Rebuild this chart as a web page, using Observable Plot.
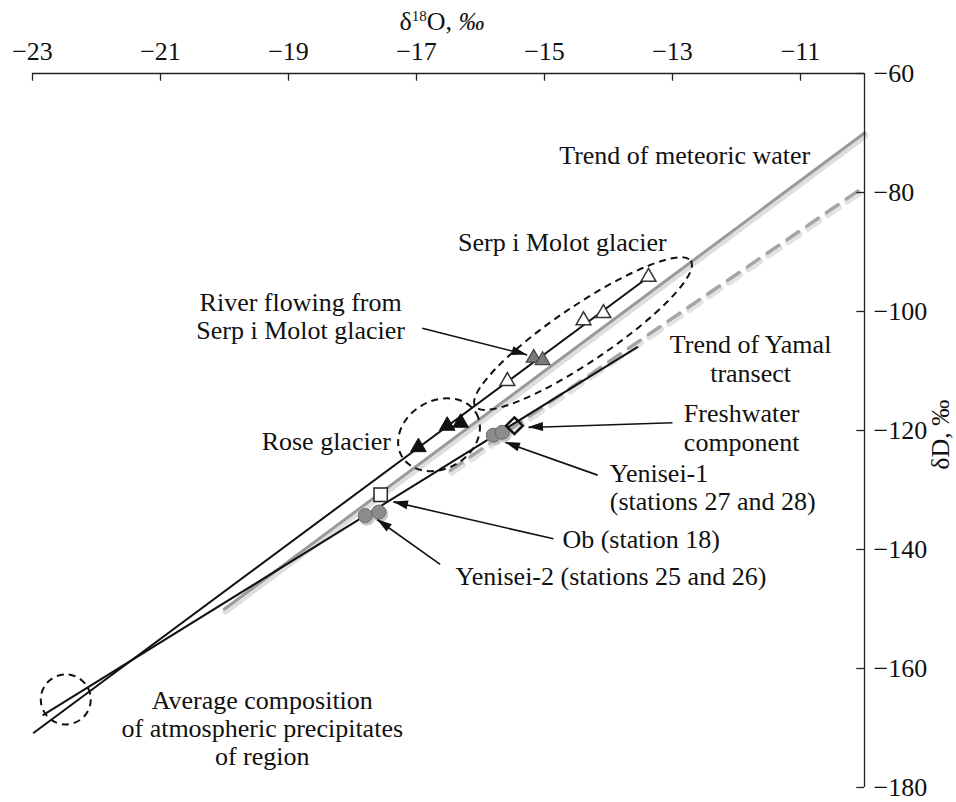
<!DOCTYPE html>
<html><head><meta charset="utf-8">
<script src="https://cdn.jsdelivr.net/npm/d3@7"></script>
<script src="https://cdn.jsdelivr.net/npm/@observablehq/plot@0.6"></script>
<style>
body{margin:0;background:#fff;}
#wrap{position:relative;width:956px;height:802px;font-family:"Liberation Serif","Times New Roman",serif;}
#xtitle{position:absolute;left:0;width:884px;top:8px;text-align:center;font-size:26px;line-height:28px;color:#111;}
#xtitle .sup{font-size:15px;position:relative;top:-9px;}
#chart{position:absolute;left:0;top:0;}
</style></head>
<body><div id="wrap"><div id="chart"></div><div id="xtitle">δ<span class="sup">18</span>O, <i>‰</i></div></div>
<script>
// Axis ticks
const xTicks = [-23, -21, -19, -17, -15, -13, -11];
const yTicks = [-60, -80, -100, -120, -140, -160, -180];

// Series (δ18O, δD)
const serpGlacierO = [-13.375, -14.08, -14.39, -15.58];
const serpGlacierD = [-94.2, -100.3, -101.5, -111.7];
const riverO = [-15.17, -15.03];
const riverD = [-107.8, -108.2];
const roseO = [-16.97, -16.52, -16.31];
const roseD = [-122.8, -119.2, -118.7];
const yenisei1O = [-15.80, -15.66];
const yenisei1D = [-120.8, -120.3];
const freshO = [-15.47];
const freshD = [-119.2];
const obO = [-17.56];
const obD = [-130.8];
const yenisei2O = [-17.80, -17.59];
const yenisei2D = [-134.3, -133.7];

// Trend lines (end points)
const glacierLineO = [-22.98, -13.375];
const glacierLineD = [-170.8, -94.2];
const riverLineO = [-22.83, -13.55];
const riverLineD = [-167.8, -106.0];
const meteoricO = [-20, -10];
const meteoricD = [-150, -70];
const yamalO = [-16.47, -10];
const yamalD = [-126.7, -79.0];

// Annotations
const ellipses = [
  {x: -14.39, y: -103.8, rx: 130, ry: 28, angle: -34},
  {x: -16.64, y: -120.8, rx: 43, ry: 34, angle: -30}
];
const atmCircle = [{x: -22.48, y: -165.2}];
const arrows = [
  {x1: -16.91, y1: -102.8, x2: -15.27, y2: -107.3},
  {x1: -13.0, y1: -118.7, x2: -15.25, y2: -119.5},
  {x1: -14.17, y1: -127.5, x2: -15.61, y2: -122.0},
  {x1: -14.86, y1: -138.2, x2: -17.36, y2: -132.0},
  {x1: -16.63, y1: -142.5, x2: -17.61, y2: -135.0}
];
const centeredLabels = [
  {text: "Trend of meteoric water", x: -12.81, y: -73.7},
  {text: "Serp i Molot glacier", x: -14.72, y: -88.3},
  {text: "River flowing from\nSerp i Molot glacier", x: -18.81, y: -100.8},
  {text: "Freshwater\ncomponent", x: -11.92, y: -119.5},
  {text: "Rose glacier", x: -18.41, y: -121.7},
  {text: "Average composition\nof atmospheric precipitates\nof region", x: -19.41, y: -170}
];
const startLabels = [
  {text: "Yenisei-1\n(stations 27 and 28)", x: -13.98, y: -129.5},
  {text: "Ob (station 18)", x: -14.72, y: -138.3},
  {text: "Yenisei-2 (stations 25 and 26)", x: -16.39, y: -144.5}
];
const yamalLabel = [{text: "Trend of Yamal\ntransect", x: -11.78, y: -107.8}];

const pts = (o, d) => o.map((v, i) => ({x: v, y: d[i]}));

const ellipseMark = (index, scales) => {
  const g = d3.create("svg:g")
    .attr("fill", "none").attr("stroke", "#111")
    .attr("stroke-width", 2).attr("stroke-dasharray", "7,5");
  for (const e of ellipses) {
    const cx = scales.x(e.x), cy = scales.y(e.y);
    g.append("ellipse").attr("cx", cx).attr("cy", cy)
      .attr("rx", e.rx).attr("ry", e.ry)
      .attr("transform", `rotate(${e.angle},${cx},${cy})`);
  }
  return g.node();
};

// filled arrow heads at the arrow tips
const arrowHeads = (index, scales) => {
  const g = d3.create("svg:g").attr("fill", "#111");
  for (const a of arrows) {
    const x1 = scales.x(a.x1), y1 = scales.y(a.y1), x2 = scales.x(a.x2), y2 = scales.y(a.y2);
    const ang = Math.atan2(y2 - y1, x2 - x1);
    const L = 15, W = 4.5;
    const bx = x2 - L * Math.cos(ang), by = y2 - L * Math.sin(ang);
    const px = -Math.sin(ang) * W, py = Math.cos(ang) * W;
    g.append("path").attr("d", `M${x2},${y2}L${bx + px},${by + py}L${bx - px},${by - py}Z`);
  }
  return g.node();
};

const plot = Plot.plot({
  width: 956,
  height: 802,
  marginLeft: 32,
  marginRight: 92,
  marginTop: 73,
  marginBottom: 15,
  style: {fontFamily: "'Liberation Serif', 'Times New Roman', serif", fontSize: "26px", color: "#111", background: "#fff"},
  x: {domain: [-23, -10], axis: "top", ticks: xTicks, tickSize: 0, tickPadding: 14, label: null},
  y: {domain: [-180, -60], axis: "right", ticks: yTicks, tickSize: 0, tickPadding: 9, label: null},
  marks: [
    // meteoric trend with shadow
    Plot.line(pts(meteoricO, meteoricD), {x: "x", y: "y", stroke: "#dedede", strokeWidth: 6, dy: 2.5, dx: 1}),
    Plot.line(pts(meteoricO, meteoricD), {x: "x", y: "y", stroke: "#9a9a9a", strokeWidth: 3}),
    // Yamal trend dashed
    Plot.line(pts(yamalO, yamalD), {x: "x", y: "y", stroke: "#e2e2e2", strokeWidth: 6, dy: 2.5, dx: 1, strokeDasharray: "14,10"}),
    Plot.line(pts(yamalO, yamalD), {x: "x", y: "y", stroke: "#a5a5a5", strokeWidth: 3.5, strokeDasharray: "14,10"}),
    // black mixing lines
    Plot.line(pts(glacierLineO, glacierLineD), {x: "x", y: "y", stroke: "#111", strokeWidth: 2}),
    Plot.line(pts(riverLineO, riverLineD), {x: "x", y: "y", stroke: "#111", strokeWidth: 2}),
    // frame
    Plot.ruleY([-60], {stroke: "#222", strokeWidth: 1.3}),
    Plot.ruleX([-10], {stroke: "#222", strokeWidth: 1.3}),
    Plot.ruleX(xTicks, {x: d => d, y1: -60, y2: -61.3, stroke: "#222", strokeWidth: 1.3}),
    Plot.ruleY(yTicks, {y: d => d, x1: -10, x2: -10.12, stroke: "#222", strokeWidth: 1.3}),
    // dashed outlines
    ellipseMark,
    Plot.dot(atmCircle, {x: "x", y: "y", r: 25, stroke: "#111", strokeWidth: 2, strokeDasharray: "7,5", fill: "none"}),
    // markers
    Plot.dot(pts(yenisei2O, yenisei2D), {x: "x", y: "y", r: 8, fill: "#c4c4c4", dx: 1.5, dy: 2}),
    Plot.dot(pts(yenisei1O, yenisei1D), {x: "x", y: "y", r: 8, fill: "#c4c4c4", dx: 1.5, dy: 2}),
    Plot.dot(pts(obO, obD), {x: "x", y: "y", symbol: "square", r: 7.5, fill: "#fff", stroke: "#222", strokeWidth: 1.5}),
    Plot.dot(pts(yenisei2O, yenisei2D), {x: "x", y: "y", r: 7, fill: "#8c8c8c", stroke: "#6a6a6a", strokeWidth: 1}),
    Plot.dot(pts(yenisei1O, yenisei1D), {x: "x", y: "y", r: 7, fill: "#8c8c8c", stroke: "#6a6a6a", strokeWidth: 1}),
    Plot.dot(pts(freshO, freshD), {x: "x", y: "y", symbol: "diamond2", r: 7.5, fill: "none", stroke: "#111", strokeWidth: 2.5}),
    Plot.dot(pts(serpGlacierO, serpGlacierD), {x: "x", y: "y", symbol: "triangle", r: 5.5, fill: "#fff", stroke: "#333", strokeWidth: 1.5}),
    Plot.dot(pts(riverO, riverD), {x: "x", y: "y", symbol: "triangle", r: 5.5, fill: "#7a7a7a", stroke: "#444", strokeWidth: 1.2}),
    Plot.dot(pts(roseO, roseD), {x: "x", y: "y", symbol: "triangle", r: 5.8, fill: "#111", stroke: "#111", strokeWidth: 1}),
    // arrows
    Plot.link(arrows, {x1: "x1", y1: "y1", x2: "x2", y2: "y2", stroke: "#111", strokeWidth: 1.6}),
    arrowHeads,
    // labels
    Plot.text(centeredLabels, {x: "x", y: "y", text: "text", textAnchor: "middle", lineHeight: 1.08, fill: "#111"}),
    Plot.text(startLabels, {x: "x", y: "y", text: "text", textAnchor: "start", lineHeight: 1.08, fill: "#111"}),
    Plot.text(yamalLabel, {x: "x", y: "y", text: "text", lineHeight: 1.15, fill: "#111"}),
    Plot.text([{t: "δD, ‰"}], {x: () => -10, y: () => -120.7, text: "t", dx: 76, rotate: -90, fill: "#111"})
  ]
});
document.getElementById("chart").appendChild(plot);
</script>
</body></html>
